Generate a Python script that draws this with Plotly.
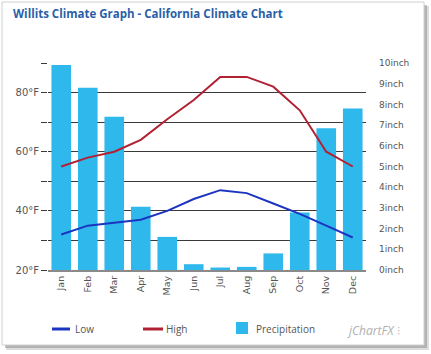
import plotly.graph_objects as go

months = ["Jan", "Feb", "Mar", "Apr", "May", "Jun", "Jul", "Aug", "Sep", "Oct", "Nov", "Dec"]
low_f = [32, 35, 36, 37, 40, 44, 47, 46, 42.5, 39, 35, 31]
high_f = [55, 58, 60, 64, 71, 77.5, 85.3, 85.3, 82, 74, 60, 55]
precip_in = [9.9, 8.8, 7.4, 3.05, 1.6, 0.28, 0.12, 0.15, 0.8, 2.78, 6.85, 7.8]

temp_ticks = [20, 30, 40, 50, 60, 70, 80, 90]
temp_labels = ["20°F", "", "40°F", "", "60°F", "", "80°F", ""]
inch_ticks = list(range(0, 11))
inch_labels = [f"{v}inch" for v in inch_ticks]

W, H = 431, 354
L, R, T, B = 48, 65, 63, 84
PW, PH = W - L - R, H - T - B


def px(x):
    return (x - L) / PW


def py(y):
    return (H - B - y) / PH


BAR = "#2EB8EC"
LOWC = "#1C35C0"
HIGHC = "#B22033"
TXT = "#555555"
GRID = "#3a3a3a"

fig = go.Figure()
fig.add_trace(go.Bar(x=months, y=precip_in, name="Precipitation", marker=dict(color=BAR, line=dict(width=0)),
                     yaxis="y", showlegend=False))
fig.add_trace(go.Scatter(x=months, y=low_f, name="Low", mode="lines", line=dict(color=LOWC, width=2),
                         yaxis="y2", showlegend=False))
fig.add_trace(go.Scatter(x=months, y=high_f, name="High", mode="lines", line=dict(color=HIGHC, width=2),
                         yaxis="y2", showlegend=False))

shapes = []
# frame with shadow
shapes.append(dict(type="rect", xref="paper", yref="paper", x0=px(6), x1=px(429), y0=py(6), y1=py(350),
                   fillcolor="#9a9a9a", opacity=0.35, line=dict(width=0), layer="below"))
shapes.append(dict(type="rect", xref="paper", yref="paper", x0=px(5), x1=px(427), y0=py(5), y1=py(348),
                   fillcolor="#8a8a8a", opacity=0.5, line=dict(width=0), layer="below"))
shapes.append(dict(type="rect", xref="paper", yref="paper", x0=px(2), x1=px(424), y0=py(2), y1=py(345),
                   fillcolor="white", line=dict(color="#d0d0d0", width=1), layer="below"))
# legend
shapes.append(dict(type="line", xref="paper", yref="paper", x0=px(52), x1=px(70), y0=py(329), y1=py(329),
                   line=dict(color=LOWC, width=3)))
shapes.append(dict(type="line", xref="paper", yref="paper", x0=px(143), x1=px(163), y0=py(329), y1=py(329),
                   line=dict(color=HIGHC, width=3)))
shapes.append(dict(type="rect", xref="paper", yref="paper", x0=px(236), x1=px(248), y0=py(322), y1=py(334),
                   fillcolor=BAR, line=dict(width=0)))

annotations = [
    dict(text="Low", x=px(73), y=py(329), xref="paper", yref="paper", xanchor="left", yanchor="middle",
         showarrow=False, font=dict(family="Open Sans", size=10, color=TXT)),
    dict(text="High", x=px(164), y=py(329), xref="paper", yref="paper", xanchor="left", yanchor="middle",
         showarrow=False, font=dict(family="Open Sans", size=10, color=TXT)),
    dict(text="Precipitation", x=px(254), y=py(329), xref="paper", yref="paper", xanchor="left", yanchor="middle",
         showarrow=False, font=dict(family="Open Sans", size=10, color=TXT)),
    dict(text="<i>jChartFX</i> ⫶", x=px(345), y=py(330), xref="paper", yref="paper", xanchor="left",
         yanchor="middle", showarrow=False, font=dict(family="Open Sans", size=12, color="#b0b0b0")),
]

fig.update_layout(
    width=W, height=H,
    margin=dict(l=L, r=R, t=T, b=B, pad=0),
    paper_bgcolor="white", plot_bgcolor="rgba(0,0,0,0)",
    bargap=0.26,
    title=dict(text="<b>Willits Climate Graph - California Climate Chart</b>", xref="container", yref="container",
               x=13 / W, y=1 - 14 / H, xanchor="left", yanchor="middle",
               font=dict(family="Open Sans", size=11.5, color="#2A5FA8")),
    xaxis=dict(showline=True, linecolor="#8a8a8a", linewidth=2, ticks="", tickangle=-90,
               tickfont=dict(family="DejaVu Sans", size=9.5, color=TXT), showgrid=False, fixedrange=True),
    yaxis=dict(range=[0, 10], side="right", tickvals=inch_ticks, ticktext=inch_labels, showgrid=False,
               zeroline=False, ticks="", ticklabelstandoff=12,
               tickfont=dict(family="DejaVu Sans", size=9, color=TXT),
               minor=dict(tick0=0, dtick=10 / 7, showgrid=True, gridcolor=GRID, gridwidth=1, ticks="")),
    yaxis2=dict(range=[20, 90], overlaying="y", side="left", tickvals=temp_ticks, ticktext=temp_labels,
                showgrid=False, zeroline=False, ticks="outside", ticklen=6,
                tickcolor=GRID, tickfont=dict(family="DejaVu Sans", size=10, color=TXT)),
    shapes=shapes,
    annotations=annotations,
    showlegend=False,
)

fig.write_html("out.html")
